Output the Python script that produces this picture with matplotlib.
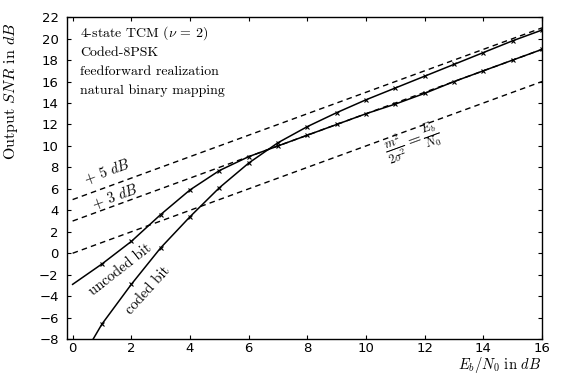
import matplotlib
matplotlib.use("Agg")
import matplotlib.pyplot as plt
import numpy as np

plt.rcParams['mathtext.fontset'] = 'cm'
plt.rcParams['font.family'] = 'DejaVu Sans'

# Eb/N0 grid (dB) and simulated output SNR (dB)
ebn0 = np.arange(0, 17)
snr_uncoded = [-2.9, -1.0, 1.1, 3.6, 5.9, 7.7, 9.0, 10.0, 11.0, 12.0,
               13.0, 13.9, 14.9, 16.0, 17.0, 18.0, 19.0]
ebn0_coded = [0.7, 1, 2, 3, 4, 5, 6, 7, 8, 9, 10, 11, 12, 13, 14, 15, 16]
snr_coded = [-8.0, -6.6, -2.9, 0.5, 3.4, 6.1, 8.4, 10.3, 11.8, 13.1,
             14.3, 15.4, 16.5, 17.6, 18.7, 19.8, 20.8]

# reference lines: m^2/2sigma^2 = Eb/N0, +3 dB, +5 dB
ref_x = [0, 16]
offsets = [0, 3, 5]

fig = plt.figure(figsize=(5.73, 3.81), dpi=100)
ax = fig.add_axes([0.117, 0.110, 0.829, 0.845])

ax.set_xlim(-0.19, 16)
ax.set_ylim(-8, 22)

dash = (0, (4, 3))
for off in offsets:
    ax.plot(ref_x, [v + off for v in ref_x], color='black', lw=1.0, ls=dash)

ax.plot(ebn0, snr_uncoded, color='black', lw=1.1,
        marker='x', ms=3.5, mew=0.8, markevery=list(range(1, 17)))
ax.plot(ebn0_coded, snr_coded, color='black', lw=1.1,
        marker='x', ms=3.5, mew=0.8, markevery=list(range(1, 17)))

ax.set_xticks(range(0, 17, 2))
ax.set_yticks(range(-8, 23, 2))
ax.tick_params(direction='in', length=3, width=0.8, top=True, right=True,
               labelsize=9.5, colors='black')
ax.tick_params(axis='x', pad=2)
ax.tick_params(axis='y', pad=6)
for s in ax.spines.values():
    s.set_linewidth(1.0)

ax.set_ylabel('Output $SNR$ in $dB$', family='cmr10', fontsize=11.5)
ax.yaxis.set_label_coords(-0.099, 0.77)
ax.text(0.91, -0.08, r'$E_b/N_0$ in $dB$', transform=ax.transAxes,
        family='cmr10', fontsize=10.5, ha='center', va='center')

info = ['4-state TCM ($\\nu$ = 2)', 'Coded-8PSK',
        'feedforward realization', 'natural binary mapping']
for i, line in enumerate(info):
    ax.text(0.027, 0.95 - i * 0.06, line, transform=ax.transAxes,
            family='cmr10', fontsize=10, ha='left', va='center')

kw = dict(family='cmr10', ha='center', va='center', rotation_mode='anchor')
ax.text(1.17, 7.55, '+ 5 $dB$', rotation=20, fontsize=10.5, **kw)
ax.text(1.45, 5.3, '+ 3 $dB$', rotation=20, fontsize=10.5, **kw)
ax.text(1.62, -1.5, 'uncoded bit', rotation=38, fontsize=10.5, **kw)
ax.text(2.58, -3.5, 'coded bit', rotation=48, fontsize=10.5, **kw)
ax.text(11.6, 10.3, r'$\frac{m^2}{2\sigma^2} = \frac{E_b}{N_0}$', rotation=20,
        fontsize=12.5, **kw)

fig.savefig('out.png', dpi=100)
